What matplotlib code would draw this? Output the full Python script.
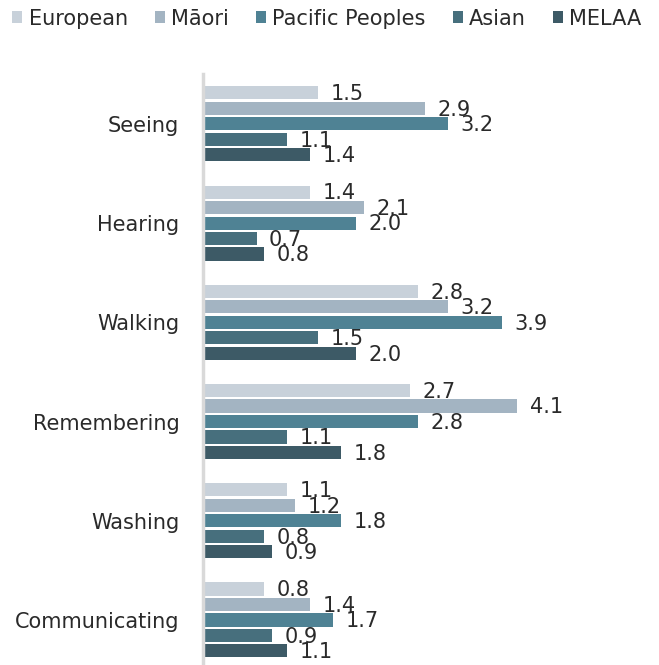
import numpy as np
import matplotlib.pyplot as plt

plt.rcParams['font.family'] = ['DejaVu Sans']

categories = ['Seeing', 'Hearing', 'Walking', 'Remembering', 'Washing', 'Communicating']
groups = ['European', 'Māori', 'Pacific Peoples', 'Asian', 'MELAA']
european = [1.5, 1.4, 2.8, 2.7, 1.1, 0.8]
maori = [2.9, 2.1, 3.2, 4.1, 1.2, 1.4]
pacific = [3.2, 2.0, 3.9, 2.8, 1.8, 1.7]
asian = [1.1, 0.7, 1.5, 1.1, 0.8, 0.9]
melaa = [1.4, 0.8, 2.0, 1.8, 0.9, 1.1]

series = [european, maori, pacific, asian, melaa]
colors = ['#c8d1da', '#a3b4c2', '#4f8294', '#476f7d', '#3d5a66']

fig = plt.figure(figsize=(6.59, 6.65), dpi=100)
ax = fig.add_axes([0.308, 0.0, 0.692, 0.889])

y = np.arange(len(categories))
pitch = 0.156
h = 0.132
for i, (vals, col, name) in enumerate(zip(series, colors, groups)):
    pos = y + (i - 2) * pitch
    ax.barh(pos, vals, height=h, color=col, label=name)
    for yy, v in zip(pos, vals):
        ax.annotate(f'{v:.1f}', (v, yy), xytext=(9, -1), textcoords='offset points',
                    va='center', ha='left', fontsize=15, color='#2a2a2a')

ax.set_ylim(5.454, -0.504)
ax.set_xlim(0, 5.95)
ax.set_yticks(y)
ax.set_yticklabels(categories, fontsize=15, color='#2a2a2a')
ax.tick_params(axis='y', length=0, pad=17)
ax.set_xticks([])
for s in ['top', 'right', 'bottom']:
    ax.spines[s].set_visible(False)
ax.spines['left'].set_color('#d9d9d9')
ax.spines['left'].set_linewidth(2.5)

fig.legend(loc='center left', bbox_to_anchor=(0.006, 0.972), ncol=5, frameon=False,
           fontsize=15, handlelength=0.48, handleheight=0.48, handletextpad=0.3,
           columnspacing=1.3, borderaxespad=0, labelcolor='#2a2a2a')

fig.savefig('out.png', dpi=100)
